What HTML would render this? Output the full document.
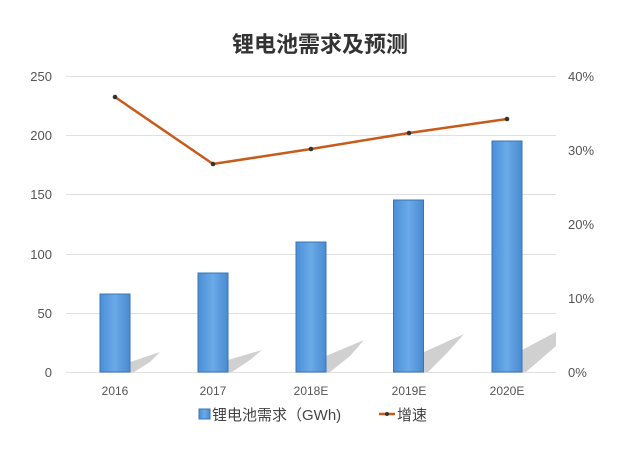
<!DOCTYPE html>
<html><head><meta charset="utf-8"><style>
html,body{margin:0;padding:0;background:#fff;}
svg{display:block;}
text{font-family:"Liberation Sans","Noto Sans CJK SC",sans-serif;}
</style></head><body>
<svg width="640" height="475" viewBox="0 0 640 475" xmlns="http://www.w3.org/2000/svg">
<defs>
<linearGradient id="b" x1="0" x2="1" y1="0" y2="0">
<stop offset="0" stop-color="#4a8fd6"/><stop offset="0.5" stop-color="#6aaae8"/><stop offset="1" stop-color="#4a8ad0"/>
</linearGradient>
</defs>
<text x="320" y="52" text-anchor="middle" font-size="22" font-weight="bold" fill="#333">锂电池需求及预测</text>
<g stroke="#e0e0e0" stroke-width="1">
<line x1="66" y1="76.5" x2="556" y2="76.5"/>
<line x1="66" y1="135.5" x2="556" y2="135.5"/>
<line x1="66" y1="194.5" x2="556" y2="194.5"/>
<line x1="66" y1="254.5" x2="556" y2="254.5"/>
<line x1="66" y1="313.5" x2="556" y2="313.5"/>
<line x1="66" y1="372.5" x2="556" y2="372.5"/>
</g>
<g font-size="13" fill="#555" text-anchor="end">
<text x="52" y="81">250</text><text x="52" y="140">200</text><text x="52" y="199">150</text>
<text x="52" y="259">100</text><text x="52" y="318">50</text><text x="52" y="377">0</text>
</g>
<g font-size="13" fill="#555" text-anchor="start">
<text x="568" y="81">40%</text><text x="568" y="155">30%</text><text x="568" y="229">20%</text>
<text x="568" y="303">10%</text><text x="568" y="377">0%</text>
</g>
<g fill="#c8c8c8" opacity="0.85">
<polygon points="130,372 130,362 160,352 150,362 134,372"/>
<polygon points="228,372 228,360 262,350 250,360 232,372"/>
<polygon points="326,372 326,356 364,340 350,356 330,372"/>
<polygon points="424,372 424,352 464,334 448,352 428,372"/>
<polygon points="522,372 522,350 556,332 556,346 526,372"/>
</g>
<g fill="url(#b)" stroke="#3a74b8" stroke-width="1">
<rect x="100" y="294" width="30" height="78"/>
<rect x="198" y="273" width="30" height="99"/>
<rect x="296" y="242" width="30" height="130"/>
<rect x="393.5" y="200" width="30" height="172"/>
<rect x="492" y="141" width="30" height="231"/>
</g>
<g font-size="12" fill="#555" text-anchor="middle">
<text x="115" y="395">2016</text><text x="213" y="395">2017</text><text x="311" y="395">2018E</text>
<text x="409" y="395">2019E</text><text x="507" y="395">2020E</text>
</g>
<polyline points="115,97 213,164 311,149 409,133 507,119" fill="none" stroke="#c85a1a" stroke-width="2.5"/>
<g fill="#333">
<circle cx="115" cy="97" r="2.3"/><circle cx="213" cy="164" r="2.3"/><circle cx="311" cy="149" r="2.3"/>
<circle cx="409" cy="133" r="2.3"/><circle cx="507" cy="119" r="2.3"/>
</g>
<rect x="199" y="409" width="11" height="10" fill="url(#b)" stroke="#3a74b8"/>
<text x="212" y="420" font-size="15" fill="#444">锂电池需求（GWh)</text>
<line x1="379" y1="414" x2="395" y2="414" stroke="#c85a1a" stroke-width="2.5"/>
<circle cx="387" cy="414" r="2" fill="#333"/>
<text x="397" y="420" font-size="15" fill="#444">增速</text>
</svg>
</body></html>
